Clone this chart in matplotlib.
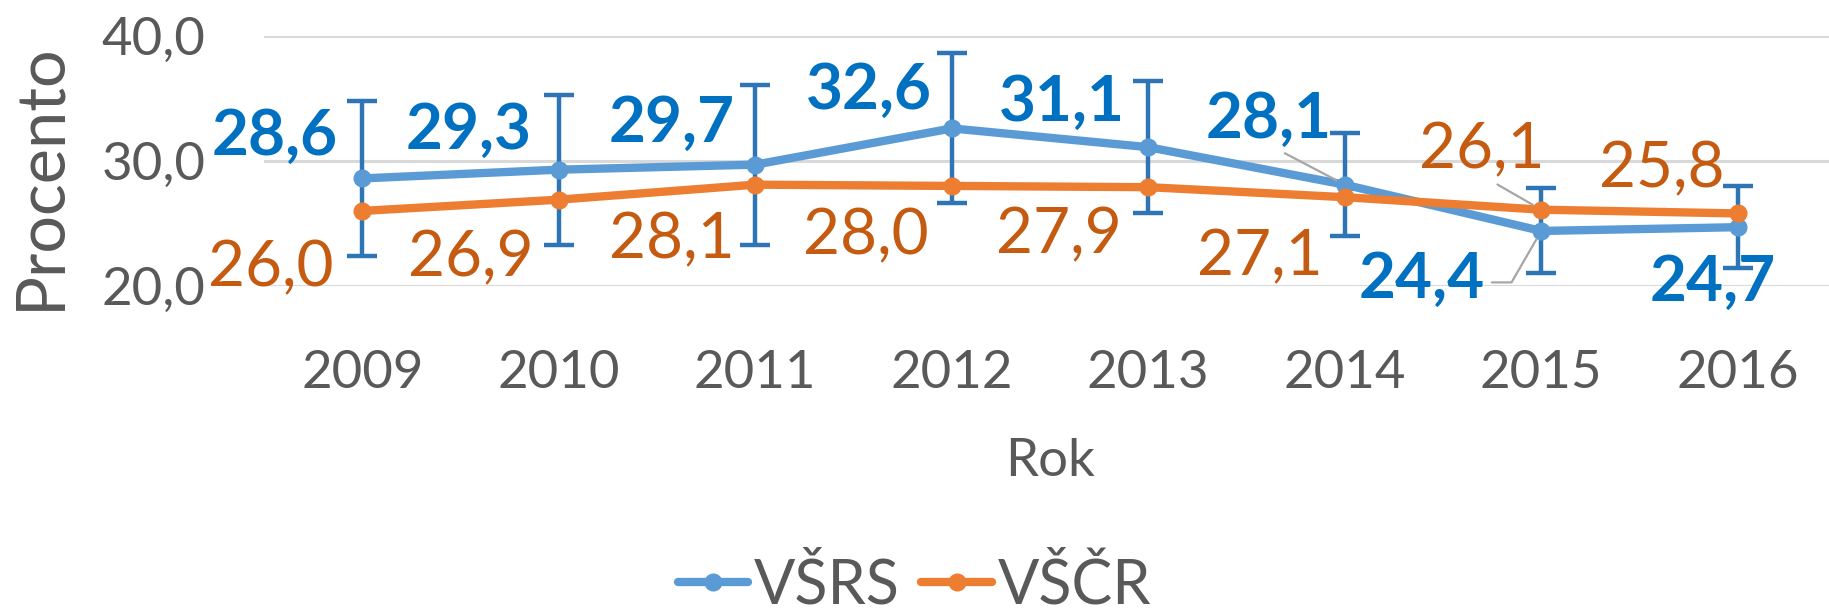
import matplotlib

matplotlib.use("Agg")
import matplotlib.pyplot as plt
import numpy as np
from matplotlib.ticker import FuncFormatter

# data
YEARS = ["2009", "2010", "2011", "2012", "2013", "2014", "2015", "2016"]
VSRS = [28.6, 29.3, 29.7, 32.6, 31.1, 28.1, 24.4, 24.7]
VSRS_ERR = [6.2, 6.0, 6.4, 6.0, 5.3, 4.1, 3.4, 3.3]
VSCR = [26.0, 26.9, 28.1, 28.0, 27.9, 27.1, 26.1, 25.8]

# label placement (offset points from each marker)
VSRS_LABEL_OFFSETS = [(-63, 30), (-65, 28), (-60, 30), (-60, 27), (-62, 32), (-55, 47), (-86, -35), (-18, -40)]
VSCR_LABEL_OFFSETS = [(-66, -41), (-63, -42), (-60, -40), (-62, -36), (-64, -35), (-61, -43), (-43, 43), (-55, 32)]

BLUE = "#5B9BD5"
BLUE_DARK = "#2E75B6"
BLUE_TEXT = "#0070C0"
ORANGE = "#ED7D31"
ORANGE_TEXT = "#C55A11"
GRAY_TEXT = "#595959"
GRID = "#D9D9D9"
LEADER = "#A6A6A6"

plt.rcParams["font.family"] = ["Lato", "DejaVu Sans"]


def comma(v):
    return f"{v:.1f}".replace(".", ",")


fig = plt.figure(figsize=(18.29, 6.13), dpi=100)
ax = fig.add_axes([264 / 1829, 0.5335, 1572 / 1829, 0.408])

x = np.arange(len(YEARS))

ax.errorbar(x, VSRS, yerr=VSRS_ERR, fmt="none", ecolor=BLUE_DARK, elinewidth=3.2,
            capsize=11, capthick=3.2, zorder=2)
ax.plot(x, VSRS, color=BLUE, lw=6.0, marker="o", ms=12, zorder=3, label="VŠRS",
        solid_capstyle="round")
ax.plot(x, VSCR, color=ORANGE, lw=6.0, marker="o", ms=12, zorder=4, label="VŠČR",
        solid_capstyle="round")

for i, (v, (dx, dy)) in enumerate(zip(VSRS, VSRS_LABEL_OFFSETS)):
    arrow = None
    if YEARS[i] == "2014":
        arrow = dict(arrowstyle="-", color=LEADER, lw=1.6, shrinkA=4, shrinkB=7, relpos=(0.55, 0.0))
    elif YEARS[i] == "2015":
        arrow = dict(arrowstyle="-", color=LEADER, lw=1.6, shrinkA=3, shrinkB=7, relpos=(1.0, 0.45),
                     connectionstyle="angle,angleA=0,angleB=60,rad=0")
    ax.annotate(comma(v), (x[i], v), xytext=(dx, dy), textcoords="offset points",
                ha="center", va="center", fontsize=46, fontweight="bold", color=BLUE_TEXT,
                arrowprops=arrow, zorder=6)

for i, (v, (dx, dy)) in enumerate(zip(VSCR, VSCR_LABEL_OFFSETS)):
    arrow = None
    if YEARS[i] == "2015":
        arrow = dict(arrowstyle="-", color=LEADER, lw=1.6, shrinkA=4, shrinkB=7, relpos=(0.55, 0.0))
    ax.annotate(comma(v), (x[i], v), xytext=(dx, dy), textcoords="offset points",
                ha="center", va="center", fontsize=46, color=ORANGE_TEXT,
                arrowprops=arrow, zorder=6)

ax.set_xlim(-0.5, len(YEARS) - 0.5)
ax.set_ylim(20, 40)
ax.set_yticks([20, 30, 40])
ax.yaxis.set_major_formatter(FuncFormatter(lambda v, p: comma(v)))
ax.set_xticks(x)
ax.set_xticklabels(YEARS)
ax.grid(axis="y", color=GRID, lw=2.2, zorder=0)
ax.set_axisbelow(True)
for s in ax.spines.values():
    s.set_visible(False)
ax.tick_params(axis="both", length=0, labelsize=38, colors=GRAY_TEXT)
ax.tick_params(axis="y", pad=42)
ax.tick_params(axis="x", pad=46)

ax.set_xlabel("Rok", fontsize=38, color=GRAY_TEXT)
ax.xaxis.label.set_va("center")
ax.xaxis.set_label_coords(0.5, -0.70)
ax.set_ylabel("Procento", fontsize=48, color=GRAY_TEXT)
ax.yaxis.label.set_va("center")
ax.yaxis.set_label_coords(-0.142, 0.44)

fig.legend(loc="center", bbox_to_anchor=(0.5, 0.045), ncol=2, frameon=False, fontsize=44,
           labelcolor=GRAY_TEXT, handlelength=1.15, handletextpad=0.1, columnspacing=0.35,
           borderpad=0, borderaxespad=0)

fig.savefig("out.png", dpi=100)
